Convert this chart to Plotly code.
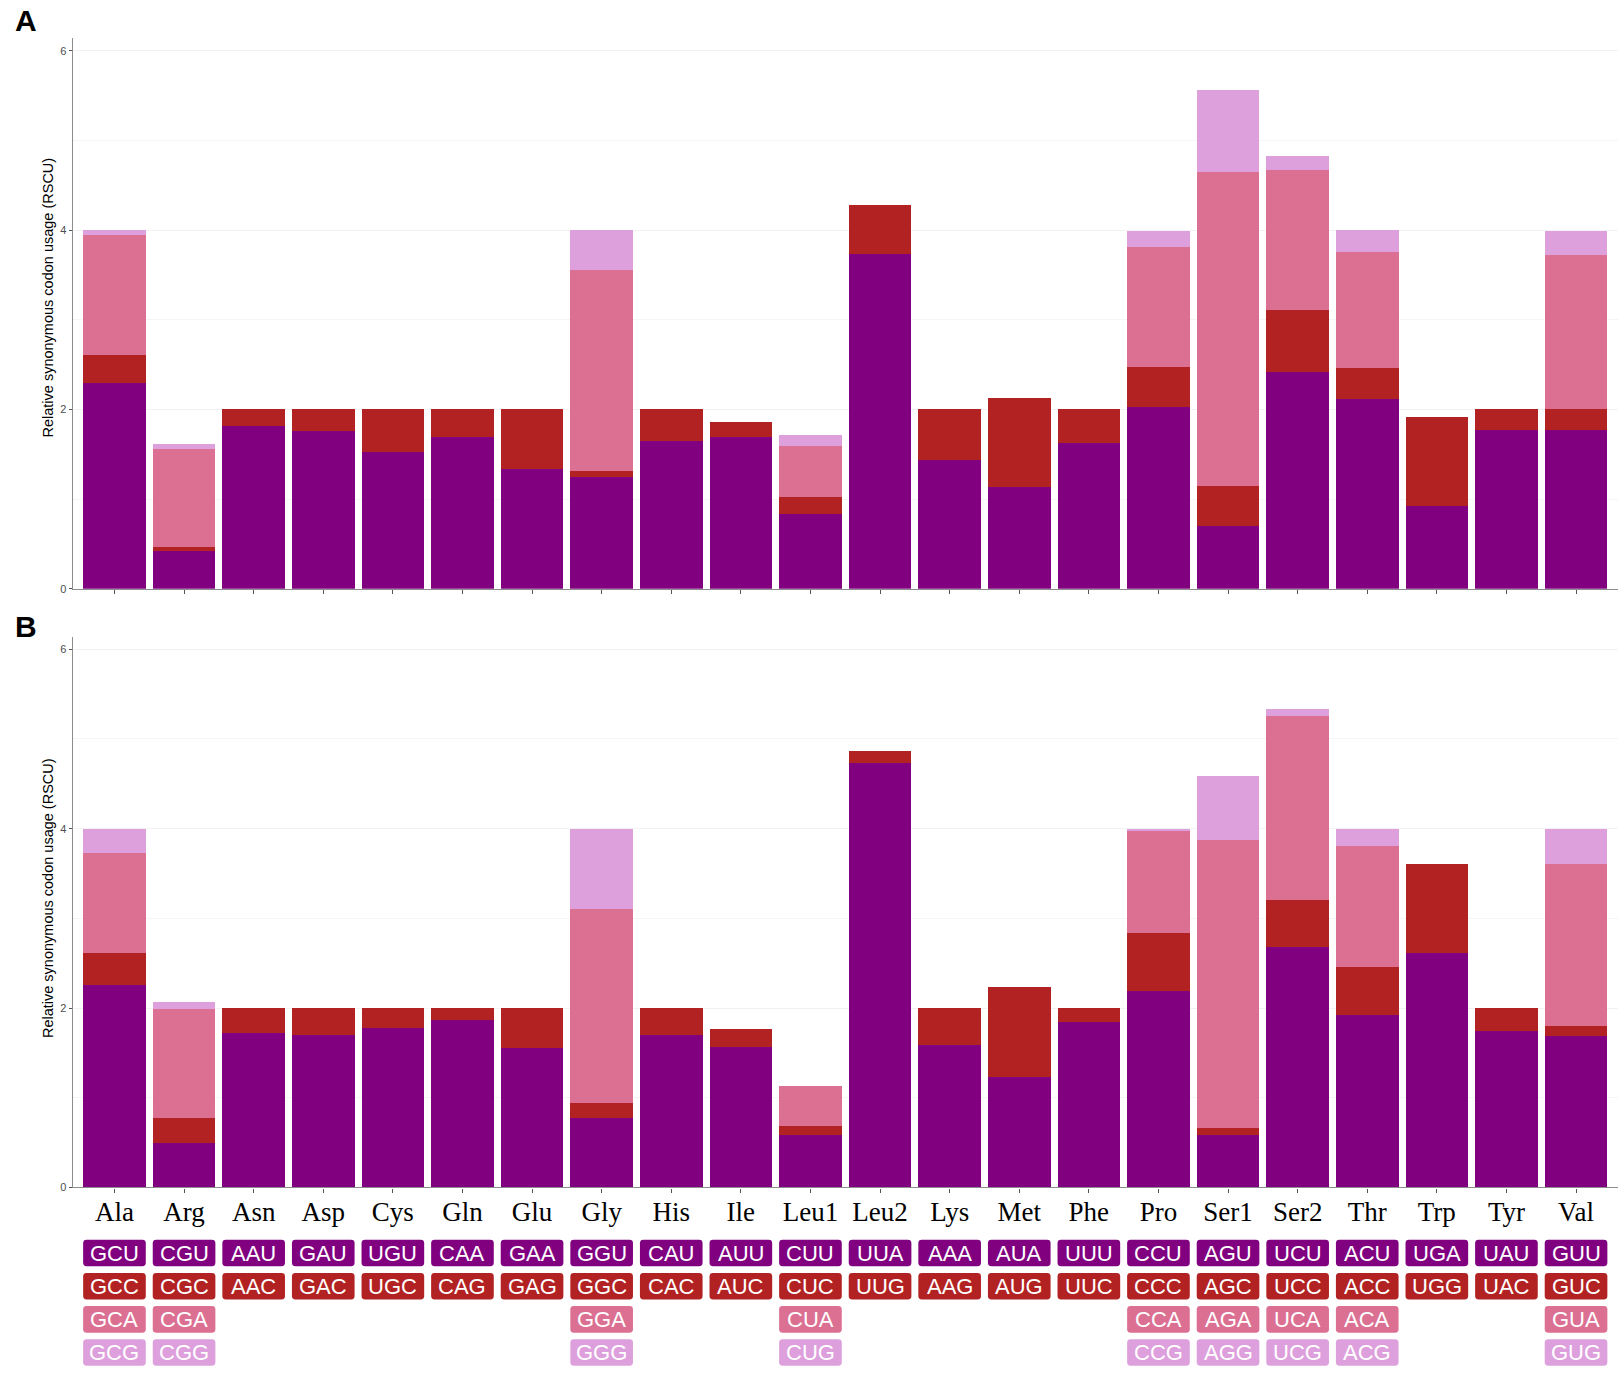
import plotly.graph_objects as go

W, H = 1624, 1373

amino_acids = ["Ala", "Arg", "Asn", "Asp", "Cys", "Gln", "Glu", "Gly", "His", "Ile", "Leu1",
               "Leu2", "Lys", "Met", "Phe", "Pro", "Ser1", "Ser2", "Thr", "Trp", "Tyr", "Val"]

codon_row1 = ["GCU", "CGU", "AAU", "GAU", "UGU", "CAA", "GAA", "GGU", "CAU", "AUU", "CUU",
              "UUA", "AAA", "AUA", "UUU", "CCU", "AGU", "UCU", "ACU", "UGA", "UAU", "GUU"]
codon_row2 = ["GCC", "CGC", "AAC", "GAC", "UGC", "CAG", "GAG", "GGC", "CAC", "AUC", "CUC",
              "UUG", "AAG", "AUG", "UUC", "CCC", "AGC", "UCC", "ACC", "UGG", "UAC", "GUC"]
codon_row3 = ["GCA", "CGA", "", "", "", "", "", "GGA", "", "", "CUA",
              "", "", "", "", "CCA", "AGA", "UCA", "ACA", "", "", "GUA"]
codon_row4 = ["GCG", "CGG", "", "", "", "", "", "GGG", "", "", "CUG",
              "", "", "", "", "CCG", "AGG", "UCG", "ACG", "", "", "GUG"]

# Panel A RSCU values (codon position 1..4 in each amino acid)
a_cod1 = [2.30, 0.42, 1.81, 1.76, 1.53, 1.69, 1.34, 1.25, 1.65, 1.69, 0.83,
          3.73, 1.44, 1.13, 1.63, 2.03, 0.70, 2.42, 2.12, 0.92, 1.77, 1.77]
a_cod2 = [0.31, 0.05, 0.19, 0.24, 0.47, 0.31, 0.66, 0.06, 0.35, 0.17, 0.19,
          0.55, 0.56, 1.00, 0.37, 0.44, 0.45, 0.69, 0.34, 1.00, 0.23, 0.23]
a_cod3 = [1.34, 1.09, None, None, None, None, None, 2.25, None, None, 0.57,
          None, None, None, None, 1.34, 3.50, 1.56, 1.29, None, None, 1.72]
a_cod4 = [0.05, 0.05, None, None, None, None, None, 0.44, None, None, 0.12,
          None, None, None, None, 0.18, 0.91, 0.16, 0.25, None, None, 0.27]

# Panel B RSCU values
b_cod1 = [2.26, 0.50, 1.72, 1.70, 1.78, 1.87, 1.55, 0.78, 1.70, 1.57, 0.58,
          4.73, 1.59, 1.23, 1.84, 2.19, 0.58, 2.68, 1.92, 2.61, 1.75, 1.69]
b_cod2 = [0.35, 0.27, 0.28, 0.30, 0.22, 0.13, 0.45, 0.16, 0.30, 0.20, 0.10,
          0.14, 0.41, 1.00, 0.16, 0.65, 0.08, 0.52, 0.54, 1.00, 0.25, 0.11]
b_cod3 = [1.12, 1.22, None, None, None, None, None, 2.16, None, None, 0.45,
          None, None, None, None, 1.13, 3.21, 2.06, 1.35, None, None, 1.81]
b_cod4 = [0.27, 0.08, None, None, None, None, None, 0.90, None, None, None,
          None, None, None, None, 0.03, 0.72, 0.07, 0.19, None, None, 0.39]

colors = ["#800080", "#B22222", "#DB7093", "#DDA0DD"]
y_ticks = [0, 2, 4, 6]
y_title = "Relative synonymous codon usage (RSCU)"

xs = list(range(len(amino_acids)))
fig = go.Figure()

for vals, col in zip([a_cod1, a_cod2, a_cod3, a_cod4], colors):
    fig.add_trace(go.Bar(x=xs, y=vals, marker=dict(color=col, line=dict(width=0)),
                         width=0.9, xaxis="x", yaxis="y", showlegend=False))
for vals, col in zip([b_cod1, b_cod2, b_cod3, b_cod4], colors):
    fig.add_trace(go.Bar(x=xs, y=vals, marker=dict(color=col, line=dict(width=0)),
                         width=0.9, xaxis="x2", yaxis="y2", showlegend=False))


def py(px):
    return 1 - px / H


x_dom = [72.7 / W, 1617.8 / W]
axis_common = dict(showline=True, linecolor="#8c8c8c", linewidth=1.2, zeroline=False,
                   ticks="outside", ticklen=4, tickcolor="#555555", tickwidth=1)
xaxis_common = dict(axis_common, range=[-0.6, 21.6], tickvals=xs, showgrid=False)
yaxis_common = dict(axis_common, range=[0, 6.14], tickvals=y_ticks, ticklen=3,
                    tickfont=dict(family="Arial", size=11, color="#4d4d4d"),
                    showgrid=True, gridcolor="#f2f2f2", gridwidth=1,
                    minor=dict(dtick=1, showgrid=True, gridcolor="#f5f5f5", ticks=""))

fig.update_layout(
    width=W, height=H,
    margin=dict(l=0, r=0, t=0, b=0),
    paper_bgcolor="white", plot_bgcolor="white",
    barmode="stack", bargap=0.1,
    xaxis=dict(xaxis_common, domain=x_dom, anchor="y", showticklabels=False),
    yaxis=dict(yaxis_common, domain=[py(591.4), py(38.3)], anchor="x"),
    xaxis2=dict(xaxis_common, domain=x_dom, anchor="y2", ticktext=amino_acids,
                ticklabelstandoff=-4,
                tickfont=dict(family="Liberation Serif, Times New Roman, serif", size=27, color="black")),
    yaxis2=dict(yaxis_common, domain=[py(1192.7), py(639.5)], anchor="x2"),
)

# Y-axis titles
for cy in [298.8, 902.0]:
    fig.add_annotation(text=y_title, x=48 / W, y=py(cy), xref="paper", yref="paper",
                       xanchor="center", yanchor="middle", textangle=-90, showarrow=False,
                       font=dict(family="Arial", size=14.5, color="black"))

# Panel letters
for letter, cy in [("A", 21.0), ("B", 629.0)]:
    fig.add_annotation(text=f"<b>{letter}</b>", x=26 / W, y=py(cy), xref="paper", yref="paper",
                       xanchor="center", yanchor="middle", showarrow=False,
                       font=dict(family="Arial", size=30, color="black"))

# Codon label boxes under panel B
row_centers_px = [1258.5, 1291.9, 1325.2, 1358.5]
box_h_px = 26.7
half_w = 0.45
rx = 3.5 / 69.6
ry = 3.5 / H
for codons, col, cy in zip([codon_row1, codon_row2, codon_row3, codon_row4],
                           colors, row_centers_px):
    y0 = py(cy + box_h_px / 2)
    y1 = py(cy - box_h_px / 2)
    for i, cod in enumerate(codons):
        if not cod:
            continue
        x0, x1 = i - half_w, i + half_w
        path = (f"M {x0 + rx} {y0} L {x1 - rx} {y0} Q {x1} {y0} {x1} {y0 + ry} "
                f"L {x1} {y1 - ry} Q {x1} {y1} {x1 - rx} {y1} "
                f"L {x0 + rx} {y1} Q {x0} {y1} {x0} {y1 - ry} "
                f"L {x0} {y0 + ry} Q {x0} {y0} {x0 + rx} {y0} Z")
        fig.add_shape(type="path", path=path, xref="x2", yref="paper",
                      fillcolor=col, line=dict(width=0), layer="above")
        fig.add_annotation(text=cod, x=i, y=py(cy), xref="x2", yref="paper",
                           xanchor="center", yanchor="middle", showarrow=False,
                           font=dict(family="Arial", size=22, color="white"))

fig.write_html("out.html", config={"displayModeBar": False},
               post_script="document.body.style.margin='0';document.body.style.overflow='hidden';")
